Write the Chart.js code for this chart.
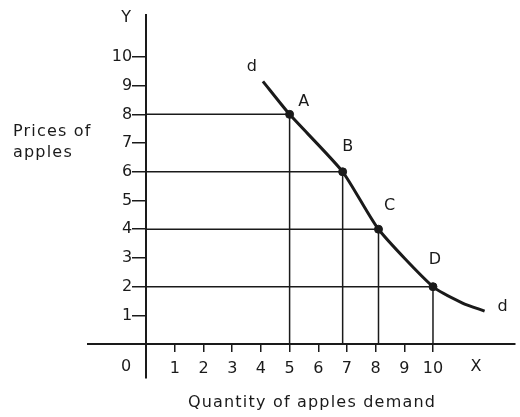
<!DOCTYPE html>
<html>
<head>
<meta charset="utf-8">
<script src="https://cdn.jsdelivr.net/npm/chart.js@4.4.1/dist/chart.umd.min.js"></script>
<style>
  html,body{margin:0;padding:0;background:#fff}
</style>
</head>
<body>
<canvas id="chart" width="520" height="417"></canvas>
<script>
// tick labels on both axes
const X_TICKS = [1,2,3,4,5,6,7,8,9,10];
const Y_TICKS = [1,2,3,4,5,6,7,8,9,10];

// demand curve d-d
const CURVE_X = [4.07,5,6.85,8.1,10,11.03,11.8];
const CURVE_Y = [9.15,8,6,4,2,1.43,1.15];

// marked points on the curve
const POINT_NAMES = ['A','B','C','D'];
const POINT_X = [5,6.85,8.1,10];
const POINT_Y = [8,6,4,2];

const INK = '#1a1a1a';
const FONT = '"DejaVu Sans", sans-serif';

// guide lines: from the price axis across to the point, then down to the quantity axis
const guideSets = POINT_X.map((px, i) => ({
  data: [{x:0, y:POINT_Y[i]}, {x:px, y:POINT_Y[i]}, {x:px, y:0}],
  borderColor: INK, borderWidth: 1.5, pointRadius: 0, tension: 0, showLine: true
}));

const curveSet = {
  data: CURVE_X.map((x, i) => ({x, y: CURVE_Y[i]})),
  borderColor: INK, borderWidth: 3, pointRadius: 0,
  tension: 0.2, showLine: true
};

const pointSet = {
  data: POINT_X.map((x, i) => ({x, y: POINT_Y[i]})),
  backgroundColor: INK, borderColor: INK, pointRadius: 4, showLine: false
};

// text that is not part of the axes ticks
const textPlugin = {
  id: 'texts',
  afterDraw(chart){
    const {ctx, scales:{x, y}, chartArea} = chart;
    const ox = x.getPixelForValue(0), oy = y.getPixelForValue(0);
    ctx.save();
    ctx.fillStyle = INK;
    ctx.font = '16px ' + FONT;
    ctx.textBaseline = 'middle';

    // price ticks, right aligned against the tick marks
    ctx.textAlign = 'right';
    Y_TICKS.forEach(v => ctx.fillText(String(v), ox - 14, y.getPixelForValue(v)));

    ctx.textAlign = 'center';
    ctx.fillText('Y', ox - 20, chartArea.top + 3);
    ctx.fillText('0', ox - 20, oy + 23);
    ctx.fillText('X', x.getPixelForValue(11.5), oy + 23);

    // point letters
    const offs = [[14,-13],[5,-25],[11,-23],[2,-27]];
    POINT_NAMES.forEach((n, i) => {
      ctx.fillText(n, x.getPixelForValue(POINT_X[i]) + offs[i][0], y.getPixelForValue(POINT_Y[i]) + offs[i][1]);
    });
    // d ... d at both ends of the curve
    const last = CURVE_X.length - 1;
    ctx.fillText('d', x.getPixelForValue(CURVE_X[0]) - 11, y.getPixelForValue(CURVE_Y[0]) - 14);
    ctx.fillText('d', x.getPixelForValue(CURVE_X[last]) + 18, y.getPixelForValue(CURVE_Y[last]) - 4);

    // axis titles
    ctx.letterSpacing = '1.2px';
    ctx.textAlign = 'left';
    ctx.fillText('Prices of', 13, 132);
    ctx.fillText('apples', 13, 153);
    ctx.textAlign = 'center';
    ctx.fillText('Quantity of apples demand', 312, 403);
    ctx.restore();
  }
};

new Chart(document.getElementById('chart'), {
  type: 'scatter',
  data: { datasets: [...guideSets, curveSet, pointSet] },
  options: {
    responsive: false,
    animation: false,
    layout: { padding: { left: 88, right: 0, top: 15, bottom: 39 } },
    plugins: { legend: {display: false}, tooltip: {enabled: false} },
    scales: {
      x: {
        type: 'linear', min: -2.03, max: 12.86,
        position: { y: 0 },
        afterBuildTicks: s => { s.ticks = X_TICKS.map(v => ({value: v})); },
        grid: { drawOnChartArea: false, drawTicks: true, tickLength: 7, color: INK, lineWidth: 1.5 },
        border: { color: INK, width: 2 },
        ticks: { color: INK, font: {family: FONT, size: 16}, padding: 8, autoSkip: false, maxRotation: 0 }
      },
      y: {
        type: 'linear', min: -1.18, max: 11.46,
        position: { x: 0 },
        afterBuildTicks: s => { s.ticks = Y_TICKS.map(v => ({value: v})); },
        grid: { drawOnChartArea: false, drawTicks: true, tickLength: 13, color: INK, lineWidth: 1.5 },
        border: { color: INK, width: 2 },
        ticks: { display: false }
      }
    }
  },
  plugins: [textPlugin]
});
</script>
</body>
</html>
